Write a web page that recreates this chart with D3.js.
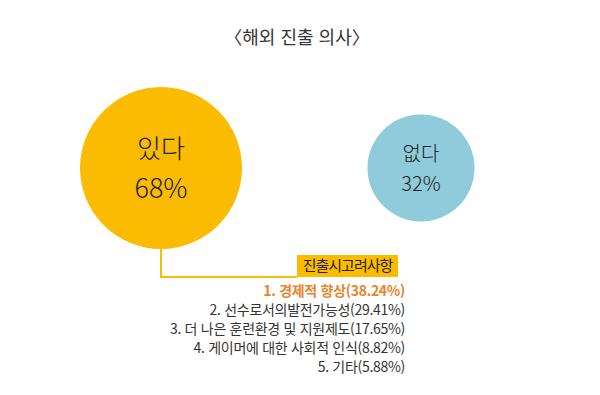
<!DOCTYPE html>
<html lang="ko">
	<head>
		<meta charset="utf-8">
		<title>해외 진출 의사</title>
		<script type="text/javascript" src="https://d3js.org/d3.v7.min.js"></script>
		<style type="text/css">
			body { margin:0; background:#fff; }
			svg text { font-family: "Noto Sans CJK KR", "Noto Sans", sans-serif; }
		</style>
	</head>
	<body>
		<svg id="chart"></svg>
		<script type="text/javascript">
			// data
			var title = "〈해외 진출 의사〉";
			var answers = ["있다", "없다"];
			var shares = [68, 32];
			var factorTitle = "진출시고려사항";
			var factors = ["경제적 향상", "선수로서의발전가능성", "더 나은 훈련환경 및 지원제도", "게이머에 대한 사회적 인식", "기타"];
			var factorShares = [38.24, 29.41, 17.65, 8.82, 5.88];

			var w = 600, h = 395;
			var colors = ["#FABB00", "#90CBDB"];

			var svg = d3.select("#chart").attr("width", w).attr("height", h);

			var data = answers.map(function(a, i){ return {name:a, value:shares[i], color:colors[i]}; });

			var xScale = d3.scalePoint().domain(answers).range([161, 421]);
			var rScale = d3.scalePow().exponent(0.55).domain([0, d3.max(shares)]).range([0, 81]);
			var cy = 168;

			svg.append("text")
				.attr("x", 297).attr("y", 44)
				.attr("text-anchor", "middle")
				.attr("font-size", "18px")
				.attr("fill", "#333")
				.text(title);

			// connector from big circle to label box
			var big = data[0];
			var lineY = 277;
			var boxX = 297, boxW = 101, boxY = 255, boxH = 22;
			svg.append("path")
				.attr("d", "M" + xScale(big.name) + "," + (cy + rScale(big.value) - 2) + "V" + lineY + "H" + boxX)
				.attr("fill", "none")
				.attr("stroke", colors[0])
				.attr("stroke-width", 2);

			svg.selectAll("circle")
				.data(data)
				.enter()
				.append("circle")
				.attr("cx", d => xScale(d.name))
				.attr("cy", cy)
				.attr("r", d => rScale(d.value))
				.attr("fill", d => d.color);

			svg.selectAll("text.name")
				.data(data)
				.enter()
				.append("text")
				.attr("class", "name")
				.attr("x", d => xScale(d.name))
				.attr("y", (d, i) => i == 0 ? 158 : 161)
				.attr("text-anchor", "middle")
				.attr("font-size", (d, i) => i == 0 ? "26px" : "20px")
				.attr("font-weight", 300)
				.attr("fill", "#222")
				.text(d => d.name);

			svg.selectAll("text.pct")
				.data(data)
				.enter()
				.append("text")
				.attr("class", "pct")
				.attr("x", d => xScale(d.name))
				.attr("y", (d, i) => i == 0 ? 198 : 191)
				.attr("text-anchor", "middle")
				.attr("font-size", (d, i) => i == 0 ? "27px" : "20px")
				.attr("font-weight", 300)
				.attr("fill", "#222")
				.text(d => d.value + "%");

			// factor box
			svg.append("rect")
				.attr("x", boxX).attr("y", boxY)
				.attr("width", boxW).attr("height", boxH)
				.attr("fill", colors[0]);

			svg.append("text")
				.attr("x", boxX + boxW / 2).attr("y", boxY + 16)
				.attr("text-anchor", "middle")
				.attr("font-size", "15px")
				.attr("letter-spacing", "-1px")
				.attr("fill", "#2a2100")
				.text(factorTitle);

			var yList = d3.scalePoint().domain(d3.range(factors.length)).range([296, 372]);
			svg.selectAll("text.factor")
				.data(factors)
				.enter()
				.append("text")
				.attr("class", "factor")
				.attr("x", 405)
				.attr("y", (d, i) => yList(i))
				.attr("text-anchor", "end")
				.attr("font-size", "14px")
				.attr("letter-spacing", "-0.3px")
				.attr("font-weight", (d, i) => i == 0 ? "bold" : "normal")
				.attr("fill", (d, i) => i == 0 ? "#E8842C" : "#333")
				.text((d, i) => (i + 1) + ". " + d + "(" + factorShares[i].toFixed(2) + "%)");
		</script>
	</body>
</html>
